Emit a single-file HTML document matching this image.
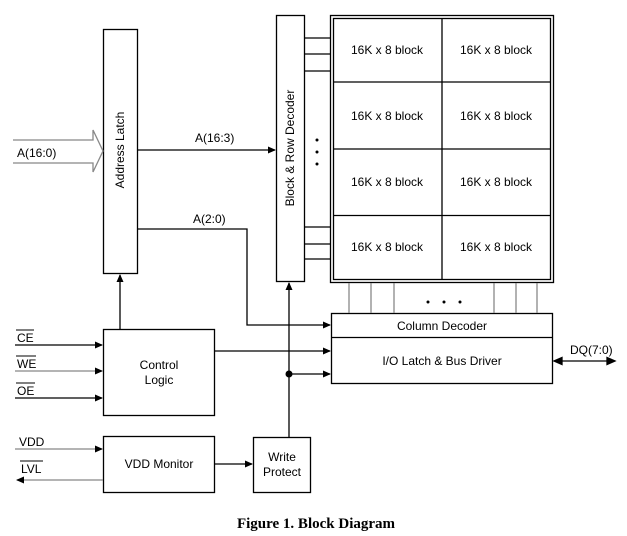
<!DOCTYPE html>
<html><head><meta charset="utf-8"><style>
html,body{margin:0;padding:0;background:#fff;}
svg{display:block;}
text{font-family:"Liberation Sans",Arial,sans-serif;font-size:12px;fill:#000;}
</style></head><body>
<svg width="627" height="536" viewBox="0 0 627 536" xmlns="http://www.w3.org/2000/svg">
<defs>
<marker id="a" markerWidth="8" markerHeight="8" refX="7" refY="4" orient="auto" markerUnits="userSpaceOnUse"><path d="M0,0.5 L8,4 L0,7.5 Z" fill="#000"/></marker>
</defs>
<g fill="none" stroke="#000" stroke-width="1.3">
<rect x="103.5" y="29.5" width="34" height="244" fill="#fff"/>
<rect x="276.5" y="15.5" width="28" height="266"/>
<rect x="330.5" y="15.5" width="223" height="267"/>
<rect x="333.5" y="18.5" width="217" height="261"/>
<line x1="333" y1="82" x2="550" y2="82"/>
<line x1="333" y1="149" x2="550" y2="149"/>
<line x1="333" y1="215.5" x2="550" y2="215.5"/>
<line x1="442" y1="18" x2="442" y2="279"/>
<line x1="304" y1="38" x2="330" y2="38"/>
<line x1="304" y1="54" x2="330" y2="54"/>
<line x1="304" y1="71" x2="330" y2="71"/>
<line x1="304" y1="227" x2="330" y2="227"/>
<line x1="304" y1="244" x2="330" y2="244"/>
<line x1="304" y1="259" x2="330" y2="259"/>
<rect x="331.5" y="313.5" width="221" height="70"/>
<line x1="331" y1="337.5" x2="552" y2="337.5"/>
<rect x="103.5" y="329.5" width="111" height="86"/>
<rect x="103.5" y="436.5" width="111" height="56"/>
<rect x="253.5" y="437.5" width="57" height="55"/>
<line x1="137" y1="150" x2="275" y2="150" marker-end="url(#a)"/>
<polyline points="137,229 247,229 247,325 330,325" marker-end="url(#a)"/>
<line x1="120" y1="329" x2="120" y2="275" marker-end="url(#a)"/>
<line x1="214" y1="351" x2="330" y2="351" marker-end="url(#a)"/>
<line x1="289" y1="374" x2="330" y2="374" marker-end="url(#a)"/>
<line x1="289" y1="437" x2="289" y2="283" marker-end="url(#a)"/>
<line x1="15" y1="345" x2="102" y2="345" marker-end="url(#a)"/>
<line x1="15" y1="398" x2="102" y2="398" marker-end="url(#a)"/>
<line x1="214" y1="464" x2="252" y2="464" marker-end="url(#a)"/>
</g>
<g fill="none" stroke="#888" stroke-width="1.3">
<line x1="15" y1="371" x2="102" y2="371" marker-end="url(#a)"/>
<line x1="15" y1="449" x2="102" y2="449" marker-end="url(#a)"/>
<line x1="103" y1="480" x2="17" y2="480" marker-end="url(#a)"/>
<line x1="349" y1="283" x2="349" y2="313"/>
<line x1="371" y1="283" x2="371" y2="313"/>
<line x1="394" y1="283" x2="394" y2="313"/>
<line x1="494" y1="283" x2="494" y2="313"/>
<line x1="516" y1="283" x2="516" y2="313"/>
<line x1="537" y1="283" x2="537" y2="313"/>
<path d="M13,140 L93,140 L93,130 L103,151 L93,172 L93,163 L13,163"/>
</g>
<g stroke="#000" stroke-width="1.3" fill="#000">
<line x1="562" y1="361" x2="608" y2="361"/>
<path d="M554,361 L562,357.5 L562,364.5 Z"/>
<path d="M615,361 L607,357.5 L607,364.5 Z"/>
</g>
<circle cx="289" cy="374" r="3.5" fill="#000"/>
<g fill="#000">
<circle cx="317" cy="140" r="1.5"/><circle cx="317" cy="152" r="1.5"/><circle cx="317" cy="164" r="1.5"/>
<circle cx="428" cy="302" r="1.5"/><circle cx="444" cy="302" r="1.5"/><circle cx="460" cy="302" r="1.5"/>
</g>
<g stroke="#000" stroke-width="1">
<line x1="16" y1="330" x2="34" y2="330"/>
<line x1="16" y1="356" x2="36" y2="356"/>
<line x1="16" y1="383" x2="35" y2="383"/>
<line x1="20" y1="461" x2="43" y2="461"/>
</g>
<text x="120" y="150" text-anchor="middle" transform="rotate(-90 120 150)" dy="4">Address Latch</text>
<text x="290" y="148" text-anchor="middle" transform="rotate(-90 290 148)" dy="4">Block &amp; Row Decoder</text>
<text x="17" y="157">A(16:0)</text>
<text x="195" y="142">A(16:3)</text>
<text x="193" y="223">A(2:0)</text>
<g text-anchor="middle">
<text x="387" y="54">16K x 8 block</text><text x="496" y="54">16K x 8 block</text>
<text x="387" y="120">16K x 8 block</text><text x="496" y="120">16K x 8 block</text>
<text x="387" y="186">16K x 8 block</text><text x="496" y="186">16K x 8 block</text>
<text x="387" y="251">16K x 8 block</text><text x="496" y="251">16K x 8 block</text>
<text x="442" y="330">Column Decoder</text>
<text x="442" y="365">I/O Latch &amp; Bus Driver</text>
<text x="159" y="369">Control</text>
<text x="159" y="384">Logic</text>
<text x="159" y="468">VDD Monitor</text>
<text x="282" y="461">Write</text>
<text x="282" y="476">Protect</text>
</g>
<text x="17" y="342">CE</text>
<text x="17" y="368">WE</text>
<text x="17" y="395">OE</text>
<text x="19" y="446">VDD</text>
<text x="21" y="473">LVL</text>
<text x="570" y="354">DQ(7:0)</text>
<text x="316" y="528" text-anchor="middle" style="font-family:'Liberation Serif',serif;font-weight:bold;font-size:15px">Figure 1. Block Diagram</text>
</svg>
</body></html>
